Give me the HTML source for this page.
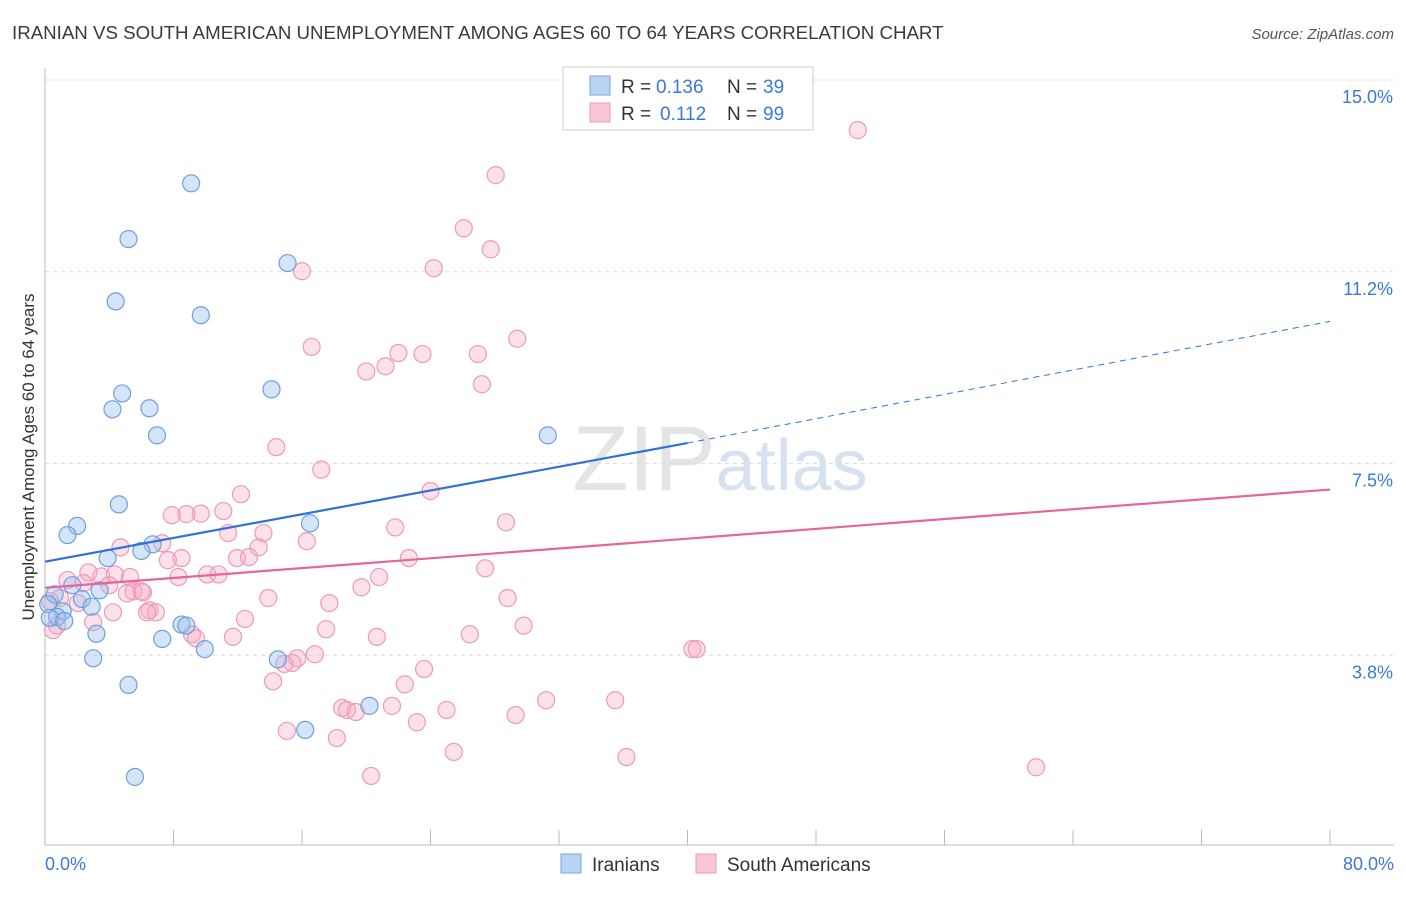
<!DOCTYPE html>
<html><head><meta charset="utf-8">
<style>
body{margin:0;background:#fff;font-family:"Liberation Sans",sans-serif;}
svg text{font-family:"Liberation Sans",sans-serif;}
</style></head>
<body>
<svg id="chart" width="1406" height="892" viewBox="0 0 1406 892" xmlns="http://www.w3.org/2000/svg">
<text x="12" y="39" font-size="18.7" fill="#3a3a3a">IRANIAN VS SOUTH AMERICAN UNEMPLOYMENT AMONG AGES 60 TO 64 YEARS CORRELATION CHART</text>
<text x="1394" y="39" font-size="15" fill="#555" text-anchor="end" font-style="italic">Source: ZipAtlas.com</text>
<text x="720" y="490" font-size="92" fill="#e4e4e4" text-anchor="middle" font-family="Liberation Serif"><tspan>ZIP</tspan><tspan fill="#d6e2f2" font-family="Liberation Sans" font-size="72">atlas</tspan></text>
<g id="grid"></g>
<g id="axes"></g>
<g id="pts"></g>
<g id="trend"></g>
<text transform="translate(34,457) rotate(-90)" font-size="17" fill="#333" text-anchor="middle">Unemployment Among Ages 60 to 64 years</text>
<g>
<rect x="563" y="67" width="250" height="63" fill="#fff" stroke="#ccc"/>
<rect x="590" y="76" width="20" height="19" fill="#b8d3f3" stroke="#7aa7e0"/>
<rect x="590" y="103" width="20" height="19" fill="#f9c6d6" stroke="#ec9ab5"/>
<text x="621" y="93" font-size="19" fill="#333">R =</text>
<text x="656" y="93" font-size="19" fill="#3b78d8">0.136</text>
<text x="727" y="93" font-size="19" fill="#333">N =</text>
<text x="763" y="93" font-size="19" fill="#3b78d8">39</text>
<text x="621" y="120" font-size="19" fill="#333">R =</text>
<text x="660" y="120" font-size="19" fill="#3b78d8">0.112</text>
<text x="727" y="120" font-size="19" fill="#333">N =</text>
<text x="763" y="120" font-size="19" fill="#3b78d8">99</text>
</g>
<g>
<rect x="561" y="854" width="20" height="19" fill="#b8d3f3" stroke="#7aa7e0"/>
<text x="592" y="871" font-size="19" fill="#333">Iranians</text>
<rect x="696" y="854" width="20" height="19" fill="#f9c6d6" stroke="#ec9ab5"/>
<text x="727" y="871" font-size="19" fill="#333">South Americans</text>
</g>
</svg>
<script>
const yTicks=[3.75,7.5,11.25,15];
const yTickLabels=["3.8%","7.5%","11.2%","15.0%"];
const xTickVals=[0,8,16,24,32,40,48,56,64,72,80];
const blueX=[9.1,5.2,4.4,9.7,15.1,4.8,4.2,6.5,6.97,14.1,31.3,4.6,2.0,1.4,6.7,6.0,3.9,16.5,1.7,3.4,0.6,2.3,0.2,1.1,2.9,0.75,0.3,1.2,3.2,8.5,8.8,7.3,9.95,3.0,14.5,5.2,20.2,16.2,5.6];
const blueY=[12.98,11.89,10.67,10.4,11.42,8.87,8.56,8.58,8.05,8.95,8.05,6.7,6.28,6.1,5.92,5.79,5.65,6.33,5.12,5.02,4.94,4.85,4.75,4.61,4.7,4.50,4.48,4.42,4.17,4.35,4.33,4.07,3.87,3.69,3.67,3.17,2.76,2.29,1.37];
const pinkX=[50.6,28.06,26.07,27.75,24.2,16.0,29.4,16.6,22.0,23.5,26.95,21.2,20.0,27.2,14.4,17.2,12.2,24.0,11.1,9.7,8.8,7.9,28.7,21.8,13.6,11.4,16.3,4.7,13.3,7.3,8.5,7.65,11.95,12.7,22.65,27.4,2.7,3.5,4.35,5.3,8.3,10.1,10.8,20.8,1.4,2.4,4.0,19.7,5.5,6.0,5.1,6.1,28.8,13.9,0.93,0.3,17.7,2.05,6.5,6.9,6.35,4.23,12.45,29.8,3.0,17.5,26.45,9.15,9.4,11.7,20.66,0.75,0.5,40.3,40.57,16.8,15.7,15.4,14.9,23.6,14.2,22.4,35.5,31.2,21.6,18.5,18.8,19.35,25.0,29.3,23.15,15.06,18.17,25.45,36.2,61.7,20.3];
const pinkY=[14.02,13.14,12.1,11.69,11.32,11.26,9.94,9.78,9.66,9.64,9.64,9.4,9.3,9.05,7.82,7.38,6.9,6.96,6.57,6.52,6.51,6.49,6.35,6.25,6.14,6.14,5.98,5.86,5.86,5.94,5.65,5.61,5.65,5.67,5.65,5.45,5.37,5.29,5.33,5.28,5.28,5.33,5.33,5.28,5.22,5.16,5.12,5.08,5.0,5.0,4.96,4.98,4.87,4.87,4.87,4.81,4.77,4.77,4.63,4.59,4.59,4.59,4.46,4.33,4.4,4.26,4.16,4.16,4.08,4.11,4.11,4.33,4.24,3.87,3.87,3.77,3.69,3.6,3.58,3.48,3.24,3.18,2.87,2.87,2.76,2.72,2.68,2.64,2.68,2.58,2.44,2.27,2.13,1.86,1.76,1.56,1.39];
const blueTrend=[5.58,7.9,10.28];
const pinkTrend=[5.07,6.99];
const NS="http://www.w3.org/2000/svg";
const X0=45,X1=1330,Y0=847,YT=80;
const xs=v=>X0+(X1-X0)*v/80;
const ys=v=>Y0-(Y0-YT)*v/15;
function mk(t,a,p){const e=document.createElementNS(NS,t);for(const k in a)e.setAttribute(k,a[k]);p.appendChild(e);return e;}
const grid=document.getElementById('grid'),axes=document.getElementById('axes'),pts=document.getElementById('pts'),trend=document.getElementById('trend');
yTicks.forEach((v,i)=>{
 const l=mk('line',{x1:X0,x2:1394,y1:ys(v),y2:ys(v),stroke:'#ddd','stroke-dasharray':'4,4'},grid);
 
 
 const t=mk('text',{x:1393,y:ys(v)+23,'font-size':18,fill:'#3b78d8','text-anchor':'end'},axes);
 t.textContent=yTickLabels[i];
 
 
});
const ax=mk('line',{x1:X0,x2:X0,y1:68,y2:845,stroke:'#bbb'},axes);


const bx=mk('line',{x1:X0,x2:1394,y1:845,y2:845,stroke:'#bbb'},axes);


xTickVals.forEach(v=>{
 const t=mk('line',{x1:xs(v),x2:xs(v),y1:830,y2:845,stroke:'#bbb'},axes);
 
 
});
[[0,'0.0%','start',45],[80,'80.0%','end',1394]].forEach(d=>{
 const t=mk('text',{x:d[3],y:870,'font-size':18,fill:'#3b78d8','text-anchor':d[2]},axes);
 t.textContent=d[1];
 
 
});
pinkX.forEach((v,i)=>{
 const c=mk('circle',{cx:xs(v),cy:ys(pinkY[i]),r:8.5,fill:'rgba(245,170,195,0.35)',stroke:'#ec9ab5','stroke-width':1.2},pts);
 
 
});
blueX.forEach((v,i)=>{
 const c=mk('circle',{cx:xs(v),cy:ys(blueY[i]),r:8.5,fill:'rgba(150,190,240,0.4)',stroke:'#6f9fdc','stroke-width':1.2},pts);
 
 
});
const b1=mk('line',{x1:xs(0),y1:ys(blueTrend[0]),x2:xs(40),y2:ys(blueTrend[1]),stroke:'#2f72d6','stroke-width':2.2},trend);


const b2=mk('line',{x1:xs(40),y1:ys(blueTrend[1]),x2:xs(80),y2:ys(blueTrend[2]),stroke:'#2f72d6','stroke-width':1,'stroke-dasharray':'6,5'},trend);


const p1=mk('line',{x1:xs(0),y1:ys(pinkTrend[0]),x2:xs(80),y2:ys(pinkTrend[1]),stroke:'#e5679a','stroke-width':2.2},trend);


</script>
</body></html>
